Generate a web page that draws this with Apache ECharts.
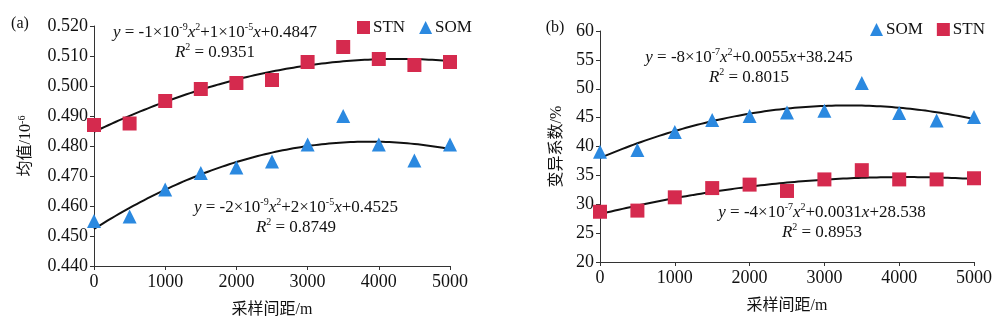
<!DOCTYPE html>
<html>
<head>
<meta charset="utf-8">
<script src="https://cdn.jsdelivr.net/npm/echarts@6/dist/echarts.min.js"></script>
<style>
  html, body { margin: 0; padding: 0; background: #fff; }
  #chart { width: 1000px; height: 323px; }
</style>
</head>
<body>
<div id="chart"></div>
<script>
// Sampling distance (m)
const distances = [0, 500, 1000, 1500, 2000, 2500, 3000, 3500, 4000, 4500, 5000];

// (a) mean values (10^-6)
const meanSTN = [0.487, 0.4875, 0.495, 0.499, 0.501, 0.502, 0.508, 0.513, 0.509, 0.507, 0.508];
const meanSOM = [0.455, 0.4565, 0.4655, 0.471, 0.4728, 0.4748, 0.4805, 0.490, 0.4805, 0.4752, 0.4805];

// (b) coefficient of variation (%)
const cvSOM = [39.1, 39.4, 42.5, 44.6, 45.3, 45.9, 46.2, 51.0, 45.8, 44.5, 45.1];
const cvSTN = [28.7, 28.9, 31.2, 32.8, 33.4, 32.3, 34.3, 35.9, 34.3, 34.3, 34.5];

// Regression labels
const eqMeanSTN = ['{i|y} = -1×10{s|-9}{i|x}{s|2}+1×10{s|-5}{i|x}+0.4847', '{i|R}{s|2} = 0.9351'];
const eqMeanSOM = ['{i|y} = -2×10{s|-9}{i|x}{s|2}+2×10{s|-5}{i|x}+0.4525', '{i|R}{s|2} = 0.8749'];
const eqCvSOM = ['{i|y} = -8×10{s|-7}{i|x}{s|2}+0.0055{i|x}+38.245', '{i|R}{s|2} = 0.8015'];
const eqCvSTN = ['{i|y} = -4×10{s|-7}{i|x}{s|2}+0.0031{i|x}+28.538', '{i|R}{s|2} = 0.8953'];

const RED = '#d52a4e';
const BLUE = '#2b89e0';
const SERIF = '"Liberation Serif", "Times New Roman", serif';
const CJK = '"Liberation Serif", "Noto Sans CJK SC", serif';

// Least-squares quadratic fit, returns a sampled curve over the x range
function quadCurve(xs, ys) {
  const t = xs.map(v => v / 1000);
  let S = [0, 0, 0, 0, 0], T = [0, 0, 0];
  for (let k = 0; k < t.length; k++) {
    let p = 1;
    for (let j = 0; j < 5; j++) { S[j] += p; if (j < 3) T[j] += p * ys[k]; p *= t[k]; }
  }
  const A = [[S[0], S[1], S[2], T[0]], [S[1], S[2], S[3], T[1]], [S[2], S[3], S[4], T[2]]];
  for (let i = 0; i < 3; i++) {
    for (let r = i + 1; r < 3; r++) {
      const f = A[r][i] / A[i][i];
      for (let c = i; c < 4; c++) A[r][c] -= f * A[i][c];
    }
  }
  const c = [0, 0, 0];
  for (let i = 2; i >= 0; i--) {
    let s = A[i][3];
    for (let j = i + 1; j < 3; j++) s -= A[i][j] * c[j];
    c[i] = s / A[i][i];
  }
  const pts = [];
  const x0 = xs[0], x1 = xs[xs.length - 1];
  for (let k = 0; k <= 100; k++) {
    const x = x0 + (x1 - x0) * k / 100;
    const u = x / 1000;
    pts.push([x, c[0] + c[1] * u + c[2] * u * u]);
  }
  return pts;
}

const pairs = (ys) => distances.map((d, i) => [d, ys[i]]);

const axisCommon = {
  axisLine: { show: true, lineStyle: { color: '#333', width: 1 } },
  axisTick: { show: true, inside: false, length: 4, lineStyle: { color: '#333' } },
  splitLine: { show: false },
  axisLabel: { color: '#111', fontFamily: SERIF, fontSize: 18 }
};

const xAxisDef = (gi) => Object.assign({}, axisCommon, {
  type: 'value', gridIndex: gi, min: 0, max: 5000, interval: 1000,
  name: '采样间距/m', nameLocation: 'middle', nameGap: 36,
  nameTextStyle: { color: '#111', fontFamily: CJK, fontSize: 16 },
  axisLabel: Object.assign({}, axisCommon.axisLabel, { margin: 7, formatter: v => String(v) })
});

const richText = (size) => ({
  i: { fontStyle: 'italic', fontFamily: SERIF, fontSize: size, color: '#111' },
  s: { fontFamily: SERIF, fontSize: Math.round(size * 0.6), color: '#111', verticalAlign: 'top', lineHeight: size * 1.2 }
});

function centered(lines, cx, y) {
  return lines.map((txt, k) => ({
    type: 'text', x: cx, y: y + k * 20,
    style: {
      text: txt, textAlign: 'center', textVerticalAlign: 'middle',
      fontFamily: SERIF, fontSize: 17, fill: '#111', rich: richText(17)
    }
  }));
}

const scatterStyle = (color, symbol, size) => ({
  type: 'scatter', symbol: symbol, symbolSize: size,
  itemStyle: { color: color, opacity: 1 }, z: 3
});

const fitStyle = {
  type: 'line', showSymbol: false, symbol: 'none', smooth: false,
  lineStyle: { color: '#111', width: 2 }, silent: true, z: 2
};

const chart = echarts.init(document.getElementById('chart'), null, { renderer: 'canvas' });

chart.setOption({
  animation: false,
  backgroundColor: '#fff',
  textStyle: { fontFamily: SERIF },
  grid: [
    { left: 94, right: 550, top: 26, bottom: 55 },
    { left: 600, right: 26, top: 31, bottom: 61 }
  ],
  xAxis: [xAxisDef(0), xAxisDef(1)],
  yAxis: [
    Object.assign({}, axisCommon, {
      type: 'value', gridIndex: 0, min: 0.44, max: 0.52, interval: 0.01,
      axisLabel: Object.assign({}, axisCommon.axisLabel, { formatter: v => v.toFixed(3), margin: 6 }),
      name: '均值/10{s|-6}', nameLocation: 'middle', nameGap: 59, nameRotate: 90,
      nameTextStyle: {
        color: '#111', fontFamily: CJK, fontSize: 16,
        rich: { s: { fontFamily: SERIF, fontSize: 10, color: '#111', verticalAlign: 'top', lineHeight: 18 } }
      }
    }),
    Object.assign({}, axisCommon, {
      type: 'value', gridIndex: 1, min: 20, max: 60, interval: 5,
      axisLabel: Object.assign({}, axisCommon.axisLabel, { margin: 6 }),
      name: '变异系数/%', nameLocation: 'middle', nameGap: 35, nameRotate: 90,
      nameTextStyle: { color: '#111', fontFamily: CJK, fontSize: 16 }
    })
  ],
  legend: [
    {
      left: 352, top: 14, itemWidth: 13, itemHeight: 13, itemGap: 14,
      data: [{ name: 'STN', icon: 'rect' }, { name: 'SOM', icon: 'triangle' }],
      textStyle: { fontFamily: SERIF, fontSize: 17, color: '#111', padding: [0, 0, 0, -2] }
    },
    {
      left: 865, top: 16, itemWidth: 13, itemHeight: 13, itemGap: 14,
      data: [{ name: 'SOM', icon: 'triangle' }, { name: 'STN', icon: 'rect' }],
      textStyle: { fontFamily: SERIF, fontSize: 17, color: '#111', padding: [0, 0, 0, -2] }
    }
  ],
  series: [
    Object.assign({ name: 'STN', xAxisIndex: 0, yAxisIndex: 0, data: pairs(meanSTN) }, scatterStyle(RED, 'rect', 14)),
    Object.assign({ name: 'SOM', xAxisIndex: 0, yAxisIndex: 0, data: pairs(meanSOM) }, scatterStyle(BLUE, 'triangle', 14)),
    Object.assign({ name: 'fitMeanSTN', xAxisIndex: 0, yAxisIndex: 0, data: quadCurve(distances, meanSTN) }, fitStyle),
    Object.assign({ name: 'fitMeanSOM', xAxisIndex: 0, yAxisIndex: 0, data: quadCurve(distances, meanSOM) }, fitStyle),
    Object.assign({ name: 'SOM', xAxisIndex: 1, yAxisIndex: 1, data: pairs(cvSOM) }, scatterStyle(BLUE, 'triangle', 14)),
    Object.assign({ name: 'STN', xAxisIndex: 1, yAxisIndex: 1, data: pairs(cvSTN) }, scatterStyle(RED, 'rect', 14)),
    Object.assign({ name: 'fitCvSOM', xAxisIndex: 1, yAxisIndex: 1, data: quadCurve(distances, cvSOM) }, fitStyle),
    Object.assign({ name: 'fitCvSTN', xAxisIndex: 1, yAxisIndex: 1, data: quadCurve(distances, cvSTN) }, fitStyle)
  ],
  graphic: [
    { type: 'text', x: 20, y: 24, style: { text: '(a)', textAlign: 'center', textVerticalAlign: 'middle', fontFamily: SERIF, fontSize: 16, fill: '#111' } },
    { type: 'text', x: 555, y: 28, style: { text: '(b)', textAlign: 'center', textVerticalAlign: 'middle', fontFamily: SERIF, fontSize: 16, fill: '#111' } }
  ].concat(
    centered(eqMeanSTN, 215, 33),
    centered(eqMeanSOM, 296, 208),
    centered(eqCvSOM, 749, 58),
    centered(eqCvSTN, 822, 213)
  )
});
</script>
</body>
</html>
